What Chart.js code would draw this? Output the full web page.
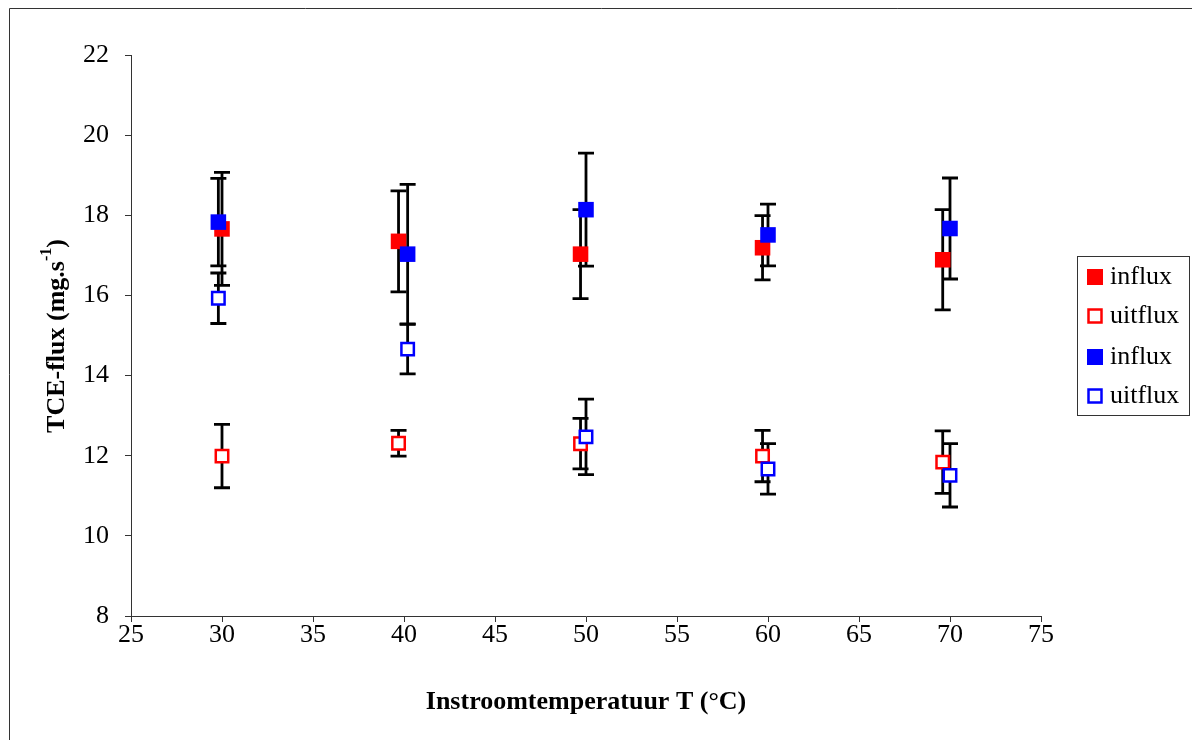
<!DOCTYPE html>
<html>
<head>
<meta charset="utf-8">
<script src="https://cdn.jsdelivr.net/npm/chart.js@4.4.1/dist/chart.umd.min.js"></script>
<style>
  html, body { margin: 0; padding: 0; background: #fff; }
  #wrap { width: 1192px; height: 740px; position: relative; }
</style>
</head>
<body>
<div id="wrap"><canvas id="fluxChart" width="1192" height="740"></canvas></div>
<script>
// Measured inflow temperatures (slightly different per run)
const tempRed = [30.0, 39.7, 49.7, 59.7, 69.6];
const tempBlue = [29.8, 40.2, 50.0, 60.0, 70.0];

// TCE flux values and standard deviations (mg/s)
const redInflux = [17.66, 17.35, 17.03, 17.19, 16.89];
const redInfluxErr = [1.41, 1.26, 1.11, 0.80, 1.25];
const redUitflux = [11.99, 12.31, 12.30, 11.99, 11.84];
const redUitfluxErr = [0.79, 0.32, 0.63, 0.64, 0.78];
const blueInflux = [17.83, 17.03, 18.14, 17.51, 17.67];
const blueInfluxErr = [1.09, 1.74, 1.41, 0.77, 1.26];
const blueUitflux = [15.93, 14.66, 12.47, 11.67, 11.51];
const blueUitfluxErr = [0.63, 0.62, 0.94, 0.63, 0.79];

const legendLabels = ['influx', 'uitflux', 'influx', 'uitflux'];
const xTitle = 'Instroomtemperatuur T (\u00B0C)';

const serif = '"Liberation Serif", "Times New Roman", serif';

function points(xs, ys) {
    return xs.map((x, i) => ({ x: x, y: ys[i] }));
}

// Error bars drawn behind the markers
const errorBars = {
    id: 'errorBars',
    beforeDatasetsDraw(chart) {
        const ctx = chart.ctx;
        const xs = chart.scales.x, ys = chart.scales.y;
        ctx.save();
        ctx.strokeStyle = '#000';
        ctx.lineWidth = 2.8;
        chart.data.datasets.forEach(ds => {
            ds.data.forEach((p, i) => {
                const e = ds.errors[i];
                const px = xs.getPixelForValue(p.x);
                const top = ys.getPixelForValue(p.y + e);
                const bot = ys.getPixelForValue(p.y - e);
                ctx.beginPath();
                ctx.moveTo(px, top);
                ctx.lineTo(px, bot);
                ctx.moveTo(px - 8, top);
                ctx.lineTo(px + 8, top);
                ctx.moveTo(px - 8, bot);
                ctx.lineTo(px + 8, bot);
                ctx.stroke();
            });
        });
        ctx.restore();
    }
};

// Frame, y title with superscript, and legend box
const decorations = {
    id: 'decorations',
    afterDraw(chart) {
        const ctx = chart.ctx;
        ctx.save();
        // outer frame
        ctx.strokeStyle = '#333';
        ctx.lineWidth = 1;
        ctx.beginPath();
        ctx.moveTo(9.5, 745);
        ctx.lineTo(9.5, 8.5);
        ctx.lineTo(1200, 8.5);
        ctx.stroke();

        // y axis title
        ctx.translate(57, 336);
        ctx.rotate(-Math.PI / 2);
        ctx.fillStyle = '#000';
        ctx.textBaseline = 'middle';
        const main = 'TCE-flux (mg.s';
        ctx.font = 'bold 26px ' + serif;
        const w1 = ctx.measureText(main).width;
        ctx.font = 'bold 16px ' + serif;
        const w2 = ctx.measureText('-1').width;
        ctx.font = 'bold 26px ' + serif;
        const w3 = ctx.measureText(')').width;
        let x0 = -(w1 + w2 + w3) / 2;
        ctx.textAlign = 'left';
        ctx.fillText(main, x0, 0);
        ctx.font = 'bold 16px ' + serif;
        ctx.fillText('-1', x0 + w1, -10);
        ctx.font = 'bold 26px ' + serif;
        ctx.fillText(')', x0 + w1 + w2, 0);
        ctx.restore();

        // legend
        ctx.save();
        ctx.strokeStyle = '#333';
        ctx.lineWidth = 1;
        ctx.strokeRect(1077.5, 256.5, 112, 159);
        const rows = [277, 316, 357, 396];
        chart.data.datasets.forEach((ds, i) => {
            const cy = rows[i];
            if (ds.pointBackgroundColor === '#fff') {
                ctx.fillStyle = '#fff';
                ctx.strokeStyle = ds.pointBorderColor;
                ctx.lineWidth = 2.5;
                ctx.fillRect(1088.5, cy - 6.5, 13, 13);
                ctx.strokeRect(1088.5, cy - 6.5, 13, 13);
            } else {
                ctx.fillStyle = ds.pointBackgroundColor;
                ctx.fillRect(1087, cy - 8, 16, 16);
            }
            ctx.fillStyle = '#000';
            ctx.font = '26px ' + serif;
            ctx.textAlign = 'left';
            ctx.textBaseline = 'middle';
            ctx.fillText(legendLabels[i], 1110, cy);
        });
        ctx.restore();
    }
};

const filled = (color, order) => ({
    pointStyle: 'rect',
    pointRadius: 11,
    pointHoverRadius: 11,
    pointBackgroundColor: color,
    pointBorderColor: color,
    pointBorderWidth: 0,
    order: order
});
const open = (color, order) => ({
    pointStyle: 'rect',
    pointRadius: 8.8,
    pointHoverRadius: 8.8,
    pointBackgroundColor: '#fff',
    pointBorderColor: color,
    pointBorderWidth: 2.5,
    order: order
});

new Chart(document.getElementById('fluxChart'), {
    type: 'scatter',
    data: {
        datasets: [
            Object.assign({ label: 'influx', data: points(tempRed, redInflux), errors: redInfluxErr }, filled('#ff0000', 4)),
            Object.assign({ label: 'uitflux', data: points(tempRed, redUitflux), errors: redUitfluxErr }, open('#ff0000', 3)),
            Object.assign({ label: 'influx', data: points(tempBlue, blueInflux), errors: blueInfluxErr }, filled('#0000ff', 2)),
            Object.assign({ label: 'uitflux', data: points(tempBlue, blueUitflux), errors: blueUitfluxErr }, open('#0000ff', 1))
        ]
    },
    options: {
        responsive: false,
        animation: false,
        layout: { padding: { left: 0, right: 151, top: 55, bottom: 0 } },
        plugins: {
            legend: { display: false },
            tooltip: { enabled: false }
        },
        scales: {
            x: {
                type: 'linear',
                min: 25,
                max: 75,
                afterFit: scale => { scale.height = 124; },
                ticks: {
                    stepSize: 5,
                    padding: -2,
                    color: '#000',
                    font: { family: serif, size: 26 }
                },
                grid: { drawOnChartArea: false, drawTicks: true, tickLength: 6, color: '#333' },
                border: { display: true, color: '#333', width: 1 },
                title: {
                    display: true,
                    text: xTitle,
                    color: '#000',
                    font: { family: serif, size: 26, weight: 'bold' },
                    padding: { top: 0, bottom: 22 }
                }
            },
            y: {
                type: 'linear',
                min: 8,
                max: 22,
                afterFit: scale => { scale.width = 131; },
                ticks: {
                    stepSize: 2,
                    padding: 16,
                    color: '#000',
                    font: { family: serif, size: 26 }
                },
                grid: { drawOnChartArea: false, drawTicks: true, tickLength: 6, color: '#333' },
                border: { display: true, color: '#333', width: 1 }
            }
        }
    },
    plugins: [errorBars, decorations]
});
</script>
</body>
</html>
